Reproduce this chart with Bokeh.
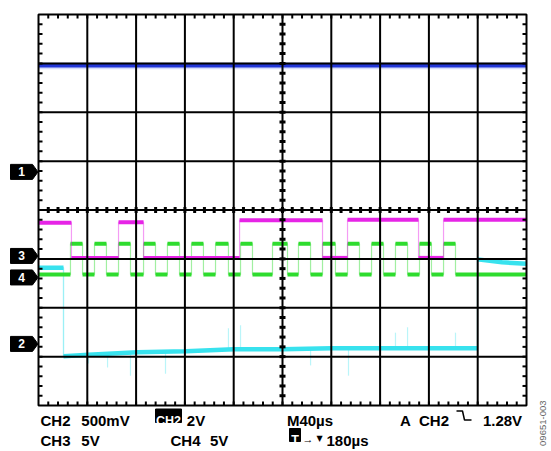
import numpy as np
from bokeh.plotting import figure
from bokeh.models import Range1d
from bokeh.embed import file_html
from bokeh.resources import INLINE
from bokeh.core.properties import value

# ---------------- data (time in microseconds, level in screen divisions) ----------------
ch1_t = [0, 400]
ch1_v = [6.95, 6.95]

ch3_edges = [0, 27.0, 65.6, 86.1, 164.8, 232.8, 253.3, 311.5, 332.0, 400]
ch3_levels = [3.74, 3.02, 3.75, 3.02, 3.79, 3.02, 3.80, 3.02, 3.80]

ch4_edges = [0, 26.2, 36.1, 45.9, 55.7, 65.6, 75.4, 86.1, 95.9, 105.7, 115.6, 125.4,
             135.2, 145.1, 155.7, 165.6, 175.4, 191.8, 204.1, 213.1, 223.0, 232.8,
             243.4, 253.3, 263.1, 273.0, 282.8, 292.6, 302.5, 312.3, 322.1, 332.0,
             341.8, 400]
ch4_low = 2.68
ch4_high = 3.31

ch2_t = [0, 20.5, 20.5, 41, 81, 121, 160, 200, 240, 320, 359.8, 359.8, 380, 400]
ch2_v = [2.82, 2.82, 1.01, 1.04, 1.09, 1.11, 1.15, 1.15, 1.17, 1.17, 1.17, 2.99, 2.93, 2.90]

ch2_spike_t = [41.0, 56.6, 75.4, 104.1, 155.7, 165.6, 223.0, 254.1, 292.6, 302.5, 341.8]
ch2_spike_end = [0.86, 0.78, 0.61, 0.65, 1.58, 1.64, 0.82, 0.61, 1.49, 1.60, 1.49]

marker_names = ["1", "2", "3", "4"]
marker_levels = [4.78, 1.26, 3.06, 2.62]

row1_text = ["CH2", "500mV", "2V", "M40µs", "A", "CH2", "1.28V"]
row2_text = ["CH3", "5V", "CH4", "5V", "180µs"]
boxed_text = ["CH2", "T"]

# colours
C1 = "#2236d8"
C2 = "#38e2ee"
C3 = "#e624e6"
C4 = "#2edc2e"

# ---------------- figure: canvas == frame, scope screen in data units ----------------
PX = 1.22      # pixels per microsecond
PY = 48.875    # pixels per division


def ux(px):
    return (px - 38) / PX


def uy(py):
    return (405 - py) / PY


p = figure(width=551, height=451, output_backend="svg", toolbar_location=None,
           x_axis_location=None, y_axis_location=None, min_border=0,
           x_range=Range1d(ux(0), ux(551)), y_range=Range1d(uy(451), uy(0)))
p.grid.visible = False
p.outline_line_color = None
p.background_fill_color = "white"
p.border_fill_color = "white"

# ---- CH1 (blue)
p.line(ch1_t, ch1_v, line_color="#8c9cf0", line_width=7, line_alpha=0.35)
p.line(ch1_t, ch1_v, line_color=C1, line_width=3.5)

# ---- CH2 (cyan)
for t, s in zip(ch2_spike_t, ch2_spike_end):
    base = float(np.interp(t, ch2_t[2:10], ch2_v[2:10]))
    p.segment(x0=[t], y0=[base], x1=[t], y1=[s], line_color=C2, line_width=1.2, line_alpha=0.35)
p.line(ch2_t, ch2_v, line_color=C2, line_width=1.3, line_alpha=0.5)
pieces_x, pieces_y = [], []
cx, cy = [ch2_t[0]], [ch2_v[0]]
for i in range(1, len(ch2_t)):
    if ch2_t[i] == ch2_t[i - 1]:
        pieces_x.append(cx); pieces_y.append(cy)
        cx, cy = [ch2_t[i]], [ch2_v[i]]
    else:
        cx.append(ch2_t[i]); cy.append(ch2_v[i])
pieces_x.append(cx); pieces_y.append(cy)
p.multi_line(pieces_x, pieces_y, line_color=C2, line_width=4.5)


def step(edges, levels):
    xs, ys = [], []
    for i, lv in enumerate(levels):
        xs += [edges[i], edges[i + 1]]
        ys += [lv, lv]
    return xs, ys


# ---- CH4 (green)
ch4_levels = [ch4_low if i % 2 == 0 else ch4_high for i in range(len(ch4_edges) - 1)]
sx, sy = step(ch4_edges, ch4_levels)
p.line(sx, sy, line_color=C4, line_width=1.2, line_alpha=0.45)
p.segment(x0=ch4_edges[:-1], y0=ch4_levels, x1=ch4_edges[1:], y1=ch4_levels,
          line_color=C4, line_width=4, line_cap="butt")

# ---- CH3 (magenta)
sx, sy = step(ch3_edges, ch3_levels)
p.line(sx, sy, line_color=C3, line_width=1.2, line_alpha=0.45)
p.segment(x0=ch3_edges[:-1], y0=ch3_levels, x1=ch3_edges[1:], y1=ch3_levels,
          line_color=C3, line_width=4, line_cap="butt")

# ---------------- graticule ----------------
major_x = np.arange(40, 400, 40)
major_y = np.arange(1, 8, 1)
p.segment(x0=major_x, y0=0, x1=major_x, y1=8, line_color="black", line_width=2)
p.segment(x0=0, y0=major_y, x1=400, y1=major_y, line_color="black", line_width=2)
p.quad(left=[0], right=[400], bottom=[0], top=[8], fill_color=None,
       line_color="black", line_width=2)

minor_x = np.arange(8, 400, 8)
minor_y = np.arange(0.2, 7.9, 0.2)
tx, ty = 4 / PX, 4 / PY
p.segment(x0=minor_x, y0=8, x1=minor_x, y1=8 - ty, line_color="black", line_width=2)
p.segment(x0=minor_x, y0=0, x1=minor_x, y1=ty, line_color="black", line_width=2)
p.segment(x0=0, y0=minor_y, x1=tx, y1=minor_y, line_color="black", line_width=2)
p.segment(x0=400, y0=minor_y, x1=400 - tx, y1=minor_y, line_color="black", line_width=2)
p.segment(x0=200 - 3 / PX, y0=minor_y, x1=200 + 3 / PX, y1=minor_y, line_color="black", line_width=3)
p.segment(x0=minor_x, y0=4 - 3 / PY, x1=minor_x, y1=4 + 3 / PY, line_color="black", line_width=3)

# ---------------- channel markers ----------------
h = 7.5 / PY
mxs, mys = [], []
for lv in marker_levels:
    mxs.append([ux(10), ux(32), ux(37.5), ux(32), ux(10)])
    mys.append([lv - h, lv - h, lv, lv + h, lv + h])
p.patches(mxs, mys, fill_color="black", line_color="black", line_width=1)
p.text(x=[ux(21)] * 4, y=marker_levels, text=marker_names, text_color="white",
       text_font=value("Liberation Sans"), text_font_style="bold", text_font_size="12px",
       text_align="center", text_baseline="middle")

# ---------------- readout text ----------------
font = value("Liberation Sans")
y1, y2 = uy(420), uy(439.5)
row1_x = [ux(55), ux(105), ux(195.5), ux(309.5), ux(405), ux(433.5), ux(502)]
row2_x = [ux(55), ux(90), ux(185), ux(218.7), ux(347)]
p.text(x=row1_x, y=[y1] * len(row1_x), text=row1_text, text_color="black", text_font=font,
       text_font_style="bold", text_font_size="15px", text_baseline="alphabetic",
       text_align="center")
p.text(x=row2_x, y=[y2] * len(row2_x), text=row2_text, text_color="black", text_font=font,
       text_font_style="bold", text_font_size="15px", text_baseline="alphabetic",
       text_align="center")

# inverted boxes
p.quad(left=[ux(155), ux(289)], right=[ux(181), ux(300)],
       bottom=[uy(422), uy(441)], top=[uy(408.5), uy(428)],
       fill_color="black", line_color="black")
p.text(x=[ux(168), ux(294.5)], y=[uy(420), uy(439.5)], text=boxed_text, text_color="white",
       text_font=font, text_font_style="bold", text_font_size="12.5px",
       text_baseline="alphabetic", text_align="center")

# trigger arrow and marker
p.text(x=[ux(307.5)], y=[uy(438)], text=["→"], text_color="black", text_font=font,
       text_font_size="11px", text_baseline="alphabetic", text_align="center")
p.text(x=[ux(319)], y=[uy(438)], text=["▼"], text_color="black", text_font=value("DejaVu Sans"),
       text_font_size="8px", text_baseline="alphabetic", text_align="center")

# falling edge symbol
p.line([ux(456), ux(462), ux(464), ux(471)], [uy(410.5), uy(410.5), uy(419.5), uy(419.5)],
       line_color="black", line_width=1.5)

# figure id
p.text(x=[ux(542)], y=[uy(400)], text=["09651-003"], angle=np.pi / 2, text_color="#666666",
       text_font=font, text_font_size="9.5px", text_align="right", text_baseline="middle")

open("out.html", "w").write(file_html(p, INLINE))
